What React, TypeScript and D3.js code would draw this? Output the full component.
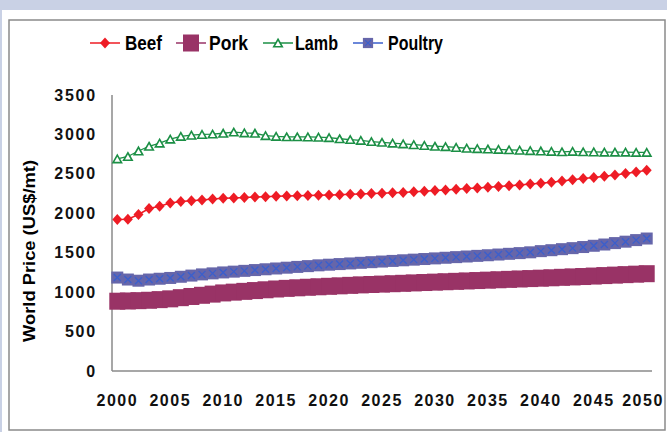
import * as React from "react";
import * as d3 from "d3";

const years = d3.range(2000, 2051);
const yTicks = [0, 500, 1000, 1500, 2000, 2500, 3000, 3500];
const xTickYears = [2000, 2005, 2010, 2015, 2020, 2025, 2030, 2035, 2040, 2045, 2050];

const beef = [
  1920, 1925, 1985, 2060, 2090, 2130, 2150, 2160, 2170, 2180,
  2190, 2195, 2200, 2205, 2210, 2215, 2220, 2222, 2225, 2228,
  2232, 2236, 2240, 2245, 2250, 2255, 2260, 2265, 2272, 2280,
  2288, 2296, 2305, 2313, 2322, 2330, 2340, 2350, 2360, 2370,
  2382, 2395, 2410, 2425, 2440, 2455, 2470, 2485, 2505, 2525, 2545,
];
const pork = [
  885, 888, 892, 897, 905, 915, 930, 945, 960, 975,
  990, 1000, 1010, 1020, 1030, 1040, 1048, 1055, 1062, 1068,
  1074, 1080, 1086, 1092, 1097, 1102, 1107, 1112, 1117, 1122,
  1127, 1132, 1137, 1142, 1147, 1152, 1157, 1162, 1167, 1172,
  1177, 1182, 1188, 1193, 1198, 1204, 1210, 1216, 1222, 1228, 1234,
];
const lamb = [
  2690, 2720, 2790, 2850, 2890, 2940, 2975, 2990, 3000, 3005,
  3015, 3030, 3020, 3015, 2985, 2975, 2970, 2970, 2968, 2965,
  2960, 2945, 2935, 2925, 2910, 2900, 2890, 2880, 2870, 2860,
  2850, 2845, 2835, 2825, 2820, 2815, 2810, 2805, 2800, 2795,
  2790, 2785, 2780, 2785, 2780, 2778, 2776, 2775, 2775, 2773, 2772,
];
const poultry = [
  1185, 1160, 1145, 1160, 1170, 1180, 1195, 1210, 1225, 1238,
  1250, 1260, 1270, 1280, 1290, 1300, 1310, 1320, 1330, 1340,
  1348, 1356, 1364, 1372, 1380, 1388, 1396, 1404, 1412, 1420,
  1428, 1436, 1444, 1452, 1460, 1468, 1477, 1486, 1495, 1505,
  1520, 1532, 1545, 1558, 1572, 1588, 1604, 1622, 1640, 1660, 1680,
];

const FONT = "'Liberation Sans', Arial, sans-serif";
const RED = "#ee1c25";
const PORK = "#993366";
const GREEN = "#1b8f45";
const PBLUE = "#6666aa";
const LBLUE = "#3a5fcd";

// marker shapes, drawn centred on 0,0
const diamond = (w: number, h: number) => `M0,${-h / 2}L${w / 2},0L0,${h / 2}L${-w / 2},0Z`;
const triangle = (w: number, h: number) => `M0,${-h / 2}L${w / 2},${h / 2}L${-w / 2},${h / 2}Z`;

function Marker({ kind }: { kind: string }) {
  if (kind === "beef") return <path d={diamond(10, 11)} fill={RED} />;
  if (kind === "pork") return <rect x={-8} y={-8.5} width={16} height={17} fill={PORK} />;
  if (kind === "lamb")
    return <path d={triangle(8.5, 7.5)} fill="#fff" stroke={GREEN} strokeWidth={1.6} />;
  return (
    <g>
      <rect x={-6} y={-6} width={12} height={12} fill={PBLUE} />
      <path d="M-3.5,-3.5L3.5,3.5M3.5,-3.5L-3.5,3.5" stroke={LBLUE} strokeWidth={1.3} />
    </g>
  );
}

export default function App() {
  const width = 667;
  const height = 432;

  const x = d3.scalePoint<number>().domain(years).range([112, 652]).padding(0.5);
  const y = d3.scaleLinear().domain([0, 3500]).range([371, 95]);

  const series = [
    { key: "pork", values: pork, color: PORK, sw: 2 },
    { key: "poultry", values: poultry, color: LBLUE, sw: 1.5 },
    { key: "beef", values: beef, color: RED, sw: 1.5 },
    { key: "lamb", values: lamb, color: GREEN, sw: 1.3 },
  ];

  const line = d3
    .line<number>()
    .x((_, i) => x(years[i]) as number)
    .y((d) => y(d));

  const legend = [
    { key: "beef", label: "Beef", color: RED, x0: 90, tx: 125, tl: 37 },
    { key: "pork", label: "Pork", color: PORK, x0: 176, tx: 209, tl: 39 },
    { key: "lamb", label: "Lamb", color: GREEN, x0: 263, tx: 295, tl: 43 },
    { key: "poultry", label: "Poultry", color: LBLUE, x0: 353, tx: 388, tl: 55 },
  ];

  return (
    <svg
      width={width}
      height={height}
      style={{ position: "absolute", left: 0, top: 0, display: "block" }}
    >
      <rect x={0} y={0} width={width} height={height} fill="#c9d1e5" />
      <rect x={2} y={10} width={width - 2} height={height - 10} fill="#fff" />
      <rect x={9} y={20} width={656} height={410} fill="#fff" stroke="#8a8a8a" strokeWidth={1.5} />

      {/* legend */}
      {legend.map((l) => (
        <g key={l.key}>
          <line x1={l.x0} x2={l.x0 + 30} y1={43} y2={43} stroke={l.color} strokeWidth={1.5} />
          <g transform={`translate(${l.x0 + 15},43)`}>
            {l.key === "poultry" ? (
              <g transform="scale(0.85)">
                <Marker kind={l.key} />
              </g>
            ) : (
              <Marker kind={l.key} />
            )}
          </g>
          <text
            x={l.tx}
            y={50}
            fontFamily={FONT}
            fontWeight="bold"
            fontSize={20}
            textLength={l.tl}
            lengthAdjust="spacingAndGlyphs"
            fill="#000"
          >
            {l.label}
          </text>
        </g>
      ))}

      {/* axes */}
      <line x1={112} x2={112} y1={95} y2={371} stroke="#8a8a8a" strokeWidth={1.5} />
      <line x1={112} x2={652} y1={371} y2={371} stroke="#8a8a8a" strokeWidth={1.5} />

      {yTicks.map((t) => (
        <text
          key={t}
          x={97}
          y={y(t) + 5.5}
          textAnchor="end"
          fontFamily={FONT}
          fontWeight="bold"
          fontSize={16}
          letterSpacing={1.8}
          fill="#111"
        >
          {t}
        </text>
      ))}
      {xTickYears.map((t) => (
        <text
          key={t}
          x={Math.min(x(t) as number, 643)}
          y={406}
          textAnchor="middle"
          fontFamily={FONT}
          fontWeight="bold"
          fontSize={16}
          letterSpacing={1.5}
          fill="#111"
        >
          {t}
        </text>
      ))}
      <text
        transform="translate(35,251) rotate(-90)"
        textAnchor="middle"
        fontFamily={FONT}
        fontWeight="bold"
        fontSize={17}
        textLength={182}
        lengthAdjust="spacingAndGlyphs"
        fill="#000"
      >
        World Price (US$/mt)
      </text>

      {/* series */}
      {series.map((s) => (
        <g key={s.key}>
          <path d={line(s.values) || ""} fill="none" stroke={s.color} strokeWidth={s.sw} />
          {s.values.map((v, i) => (
            <g key={i} transform={`translate(${x(years[i])},${y(v)})`}>
              <Marker kind={s.key} />
            </g>
          ))}
        </g>
      ))}
    </svg>
  );
}
